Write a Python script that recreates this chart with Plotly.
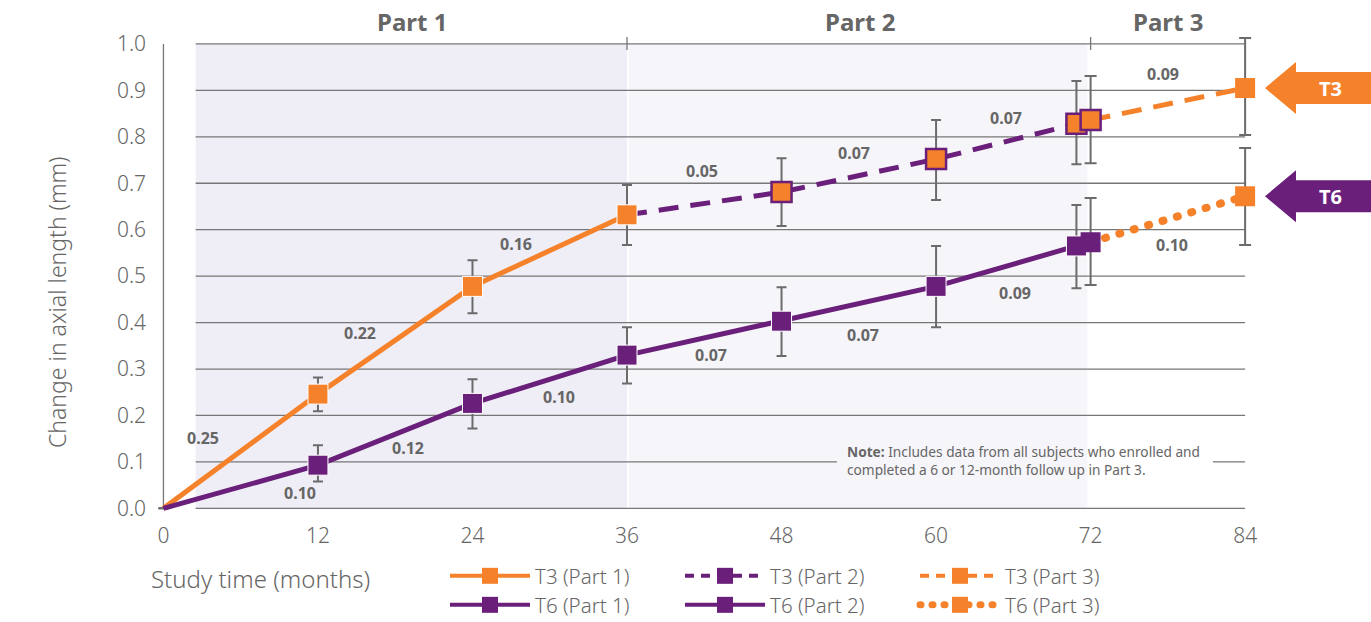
import plotly.graph_objects as go

# ---- colours / fonts ----
ORANGE = "#F5822A"
PURPLE = "#6A1F7A"
GRID = "#777777"
ERR = "#6B6B6B"
TEXT = "#666666"
SHADE1 = "#EFEDF5"
SHADE2 = "#F6F5FA"
FONT = "Noto Sans"

# ---- data: months, mean change (mm), error bar upper/lower bounds ----
t3_p1_x = [0, 12, 24, 36]
t3_p1_y = [0.0, 0.246, 0.478, 0.632]
t3_p1_hi = [None, 0.282, 0.534, 0.696]
t3_p1_lo = [None, 0.209, 0.420, 0.567]

t3_p2_x = [36, 48, 60, 70.9]
t3_p2_y = [0.632, 0.681, 0.752, 0.828]
t3_p2_hi = [None, 0.754, 0.836, 0.920]
t3_p2_lo = [None, 0.608, 0.664, 0.741]

t3_p3_x = [72, 84]
t3_p3_y = [0.836, 0.905]
t3_p3_hi = [0.931, 1.013]
t3_p3_lo = [0.743, 0.804]

t6_p1_x = [0, 12, 24, 36]
t6_p1_y = [0.0, 0.093, 0.226, 0.330]
t6_p1_hi = [None, 0.136, 0.278, 0.390]
t6_p1_lo = [None, 0.058, 0.172, 0.269]

t6_p2_x = [36, 48, 60, 70.9]
t6_p2_y = [0.330, 0.403, 0.478, 0.565]
t6_p2_hi = [None, 0.476, 0.565, 0.653]
t6_p2_lo = [None, 0.328, 0.390, 0.474]

t6_p3_x = [72, 84]
t6_p3_y = [0.573, 0.672]
t6_p3_hi = [0.668, 0.776]
t6_p3_lo = [0.481, 0.567]

# annual progression labels (text, month, value)
t3_rates = [("0.25", 3.1, 0.151), ("0.22", 15.3, 0.377), ("0.16", 27.4, 0.569),
            ("0.05", 41.8, 0.726), ("0.07", 53.6, 0.765), ("0.07", 65.4, 0.841),
            ("0.09", 77.6, 0.935)]
t6_rates = [("0.10", 10.6, 0.034), ("0.12", 19.0, 0.131), ("0.10", 30.7, 0.239),
            ("0.07", 42.5, 0.330), ("0.07", 54.3, 0.373), ("0.09", 66.1, 0.463),
            ("0.10", 78.3, 0.567)]

x_ticks = [0, 12, 24, 36, 48, 60, 72, 84]
y_ticks = [i / 10 for i in range(11)]
part_bounds = [2.5, 36, 71.75, 84]
part_names = ["Part 1", "Part 2", "Part 3"]
part_label_x = [19.3, 54.1, 78.0]

# ---- layout geometry ----
W, H = 1371, 622
ML, MR, MT, MB = 157, 113, 30, 109
XR = [-0.5, 85]
YR = [-0.01, 1.03]
PW, PH = W - ML - MR, H - MT - MB


def px_to_paper_x(px):
    return (px - ML) / PW


def px_to_paper_y(py):
    return (H - MB - py) / PH


def y_to_paper(y):
    return (y - YR[0]) / (YR[1] - YR[0])


def err_style(y, hi, lo, width=5):
    plus = [None if h is None else round(h - v, 4) for v, h in zip(y, hi)]
    minus = [None if l is None else round(v - l, 4) for v, l in zip(y, lo)]
    return dict(type="data", symmetric=False, array=plus, arrayminus=minus,
                color=ERR, thickness=2, width=width, visible=True)


fig = go.Figure()

DASH = "20px,12px"
DOT = "1px,14px"
LW = 5
MS = 20

# part 2 segments (drawn first so part 1 markers sit on top at month 36)
fig.add_trace(go.Scatter(
    x=t3_p2_x, y=t3_p2_y, mode="lines+markers", showlegend=False,
    line=dict(color=PURPLE, width=LW, dash=DASH),
    marker=dict(symbol="square", size=[0, MS, MS, MS], color=ORANGE, opacity=1,
                line=dict(color=PURPLE, width=2.5)),
    error_y=err_style(t3_p2_y, t3_p2_hi, t3_p2_lo)))
fig.add_trace(go.Scatter(
    x=t6_p2_x, y=t6_p2_y, mode="lines+markers", showlegend=False,
    line=dict(color=PURPLE, width=LW),
    marker=dict(symbol="square", size=[0, MS, MS, MS], color=PURPLE, opacity=1),
    error_y=err_style(t6_p2_y, t6_p2_hi, t6_p2_lo)))

# part 3 segments
fig.add_trace(go.Scatter(
    x=t3_p3_x, y=t3_p3_y, mode="lines+markers", showlegend=False,
    line=dict(color=ORANGE, width=LW, dash=DASH),
    marker=dict(symbol="square", size=MS, color=ORANGE, opacity=1,
                line=dict(color=[PURPLE, ORANGE], width=[2.5, 0])),
    error_y=err_style(t3_p3_y, t3_p3_hi, t3_p3_lo, width=6)))
fig.add_trace(go.Scatter(
    x=t6_p3_x, y=t6_p3_y, mode="lines+markers", showlegend=False,
    line=dict(color=ORANGE, width=8, dash=DOT),
    marker=dict(symbol="square", size=MS, color=[PURPLE, ORANGE], opacity=1),
    error_y=err_style(t6_p3_y, t6_p3_hi, t6_p3_lo, width=6)))

# part 1 segments
fig.add_trace(go.Scatter(
    x=t3_p1_x, y=t3_p1_y, mode="lines+markers", showlegend=False,
    line=dict(color=ORANGE, width=LW),
    marker=dict(symbol="square", size=[0, MS, MS, MS], color=ORANGE, opacity=1),
    error_y=err_style(t3_p1_y, t3_p1_hi, t3_p1_lo)))
fig.add_trace(go.Scatter(
    x=t6_p1_x, y=t6_p1_y, mode="lines+markers", showlegend=False,
    line=dict(color=PURPLE, width=LW),
    marker=dict(symbol="square", size=[0, MS, MS, MS], color=PURPLE, opacity=1),
    error_y=err_style(t6_p1_y, t6_p1_hi, t6_p1_lo)))

# legend entries
legend_items = [
    ("T3 (Part 1)", ORANGE, "solid", "legend"),
    ("T3 (Part 2)", PURPLE, DASH, "legend"),
    ("T3 (Part 3)", ORANGE, DASH, "legend"),
    ("T6 (Part 1)", PURPLE, "solid", "legend2"),
    ("T6 (Part 2)", PURPLE, "solid", "legend2"),
    ("T6 (Part 3)", ORANGE, DOT, "legend2"),
]
for name, col, dash, lg in legend_items:
    fig.add_trace(go.Scatter(
        x=[None], y=[None], mode="lines+markers", name=name, legend=lg,
        line=dict(color=col, width=7 if dash == DOT else 4,
                  dash="1px,11px" if dash == DOT else ("9px,7px" if dash == DASH else dash)),
        marker=dict(symbol="square", size=18, color=col)))

shapes = []
# shaded study parts
shapes.append(dict(type="rect", xref="x", yref="y", x0=part_bounds[0], x1=part_bounds[1],
                   y0=0, y1=1, fillcolor=SHADE1, line_width=0, layer="below"))
shapes.append(dict(type="rect", xref="x", yref="y", x0=part_bounds[1] + 0.12, x1=part_bounds[2],
                   y0=0, y1=1, fillcolor=SHADE2, line_width=0, layer="below"))
# horizontal grid lines (0.1 line interrupted by the note)
for v in y_ticks:
    if abs(v - 0.1) < 1e-9:
        segs = [(part_bounds[0], 52.3), (81.5, 84)]
    else:
        segs = [(part_bounds[0], 84)]
    for a, b in segs:
        shapes.append(dict(type="line", xref="x", yref="y", x0=a, x1=b, y0=v, y1=v,
                           line=dict(color=GRID, width=1.3), layer="below"))
# part dividers on the top line
for xx in (36, 72):
    shapes.append(dict(type="line", xref="x", yref="y", x0=xx, x1=xx, y0=0.987, y1=1.015,
                       line=dict(color=GRID, width=1.3), layer="below"))
# left axis line
shapes.append(dict(type="line", xref="x", yref="y", x0=0, x1=0, y0=0, y1=1,
                   line=dict(color=GRID, width=1.3), layer="below"))


# end-of-series arrows
def arrow_path(yval):
    tip = px_to_paper_x(1265)
    neck = px_to_paper_x(1296)
    end = px_to_paper_x(1380)
    yc = y_to_paper(yval)
    hh = 26 / PH
    bh = 16 / PH
    return (f"M{tip},{yc} L{neck},{yc + hh} L{neck},{yc + bh} L{end},{yc + bh} "
            f"L{end},{yc - bh} L{neck},{yc - bh} L{neck},{yc - hh} Z")


for yval, col in [(t3_p3_y[-1], ORANGE), (t6_p3_y[-1], PURPLE)]:
    shapes.append(dict(type="path", xref="paper", yref="paper", path=arrow_path(yval),
                       fillcolor=col, line_width=0, layer="below"))

CM = dict(xanchor="center", yanchor="middle", showarrow=False)
annotations = []
for txt, yval in [("T3", t3_p3_y[-1]), ("T6", t6_p3_y[-1])]:
    annotations.append(dict(x=px_to_paper_x(1330), y=y_to_paper(yval), xref="paper", yref="paper",
                            text=f"<b>{txt}</b>", font=dict(family=FONT, size=20, color="white"),
                            **CM))
for txt, xv, yv in t3_rates + t6_rates:
    annotations.append(dict(x=xv, y=yv, xref="x", yref="y", text=f"<b>{txt}</b>",
                            font=dict(family=FONT, size=16, color=TEXT), **CM))
for name, xv in zip(part_names, part_label_x):
    annotations.append(dict(x=xv, y=px_to_paper_y(22), xref="x", yref="paper",
                            text=f"<b>{name}</b>", font=dict(family=FONT, size=24, color=TEXT),
                            **CM))
annotations.append(dict(x=52.95, y=0.103, xref="x", yref="y", xanchor="left", yanchor="middle",
                        align="left", showarrow=False,
                        text="<b>Note:</b> Includes data from all subjects who enrolled and<br>"
                             "completed a 6 or 12-month follow up in Part 3.",
                        font=dict(family=FONT, size=13.7, color=TEXT)))
annotations.append(dict(x=px_to_paper_x(57), y=px_to_paper_y(303), xref="paper", yref="paper",
                        text="Change in axial length (mm)", textangle=-90,
                        font=dict(family=FONT, size=23, color=TEXT, weight=300), **CM))
annotations.append(dict(x=px_to_paper_x(149), y=px_to_paper_y(578), xref="paper", yref="paper",
                        xanchor="left", yanchor="middle", showarrow=False,
                        text="Study time (months)",
                        font=dict(family=FONT, size=24, color=TEXT, weight=300)))

legend_common = dict(orientation="h", xanchor="left", yanchor="middle",
                     font=dict(family=FONT, size=20.5, color=TEXT, weight=300),
                     itemwidth=80, entrywidth=140, entrywidthmode="pixels",
                     bgcolor="rgba(0,0,0,0)", tracegroupgap=0)

fig.update_layout(
    width=W, height=H,
    margin=dict(l=ML, r=MR, t=MT, b=MB, autoexpand=False),
    paper_bgcolor="white", plot_bgcolor="white",
    font=dict(family=FONT, color=TEXT),
    xaxis=dict(range=XR, tickvals=x_ticks, showgrid=False, zeroline=False, showline=False,
               ticks="", tickfont=dict(family=FONT, size=21, color=TEXT, weight=300),
               ticklabelstandoff=8, fixedrange=True),
    yaxis=dict(range=YR, tickvals=y_ticks, tickformat=".1f", showgrid=False, zeroline=False,
               showline=False, ticks="", tickfont=dict(family=FONT, size=21, color=TEXT, weight=300),
               ticklabelstandoff=10, fixedrange=True),
    legend=dict(x=px_to_paper_x(445), y=px_to_paper_y(576), **legend_common),
    legend2=dict(x=px_to_paper_x(445), y=px_to_paper_y(605), **legend_common),
    shapes=shapes,
    annotations=annotations,
    hovermode=False,
)

# round caps turn the short dash segments into dots
post = """
document.querySelectorAll('path').forEach(function(p){
  var d = (p.style.strokeDasharray || '');
  if (d.indexOf('1px') === 0) { p.style.strokeLinecap = 'round'; }
});
"""
fig.write_html("out.html", post_script=post, config={"displayModeBar": False})
